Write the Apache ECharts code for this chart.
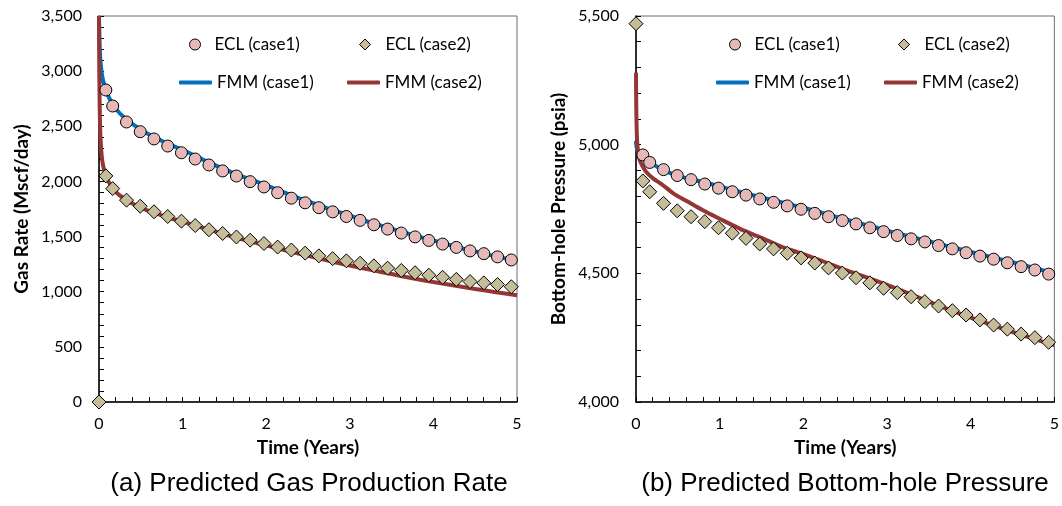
<!DOCTYPE html>
<html>
<head>
<meta charset="utf-8">
<script src="https://cdn.jsdelivr.net/npm/echarts@6/dist/echarts.min.js"></script>
<style>
html,body{margin:0;padding:0;background:#fff;}
#c{width:1062px;height:506px;}
</style>
</head>
<body>
<div id="c"></div>
<script>
// ---- data (time in years) ----
const timeECL1 = [0.082,0.164,0.329,0.493,0.658,0.822,0.986,1.151,1.315,1.479,1.644,1.808,1.973,2.137,2.301,2.466,2.630,2.795,2.959,3.123,3.288,3.452,3.616,3.781,3.945,4.110,4.274,4.438,4.603,4.767,4.932];
const timeECL2 = [0,0.082,0.164,0.329,0.493,0.658,0.822,0.986,1.151,1.315,1.479,1.644,1.808,1.973,2.137,2.301,2.466,2.630,2.795,2.959,3.123,3.288,3.452,3.616,3.781,3.945,4.110,4.274,4.438,4.603,4.767,4.932];
const rateECL1 = [2829,2684,2539,2451,2385,2321,2260,2203,2149,2095,2049,1998,1950,1898,1848,1806,1762,1724,1682,1647,1607,1568,1532,1497,1465,1432,1402,1370,1345,1316,1288];
const rateECL2 = [0,2050,1935,1830,1775,1725,1682,1640,1600,1562,1528,1496,1467,1437,1405,1378,1350,1325,1300,1280,1258,1235,1214,1193,1172,1150,1131,1112,1092,1080,1065,1045];
const presECL1 = [4960,4931,4903,4880,4864,4847,4831,4817,4804,4789,4776,4762,4749,4733,4720,4705,4692,4677,4662,4647,4634,4622,4608,4595,4580,4567,4555,4541,4526,4513,4497];
const presECL2 = [5470,4859,4817,4772,4743,4720,4701,4677,4656,4636,4614,4595,4578,4560,4540,4521,4501,4483,4463,4442,4425,4409,4390,4373,4355,4338,4319,4299,4283,4264,4250,4232];

const timeFMM = [0,0.003,0.008,0.015,0.03,0.05,0.08,0.12,0.2,0.3,0.45,0.6,0.8,1.0,1.25,1.5,1.75,2.0,2.25,2.5,2.75,3.0,3.25,3.5,3.75,4.0,4.25,4.5,4.75,5.0];
const rateFMM1 = [3500,3380,3230,3120,3000,2910,2840,2760,2660,2580,2495,2425,2350,2285,2195,2110,2035,1965,1890,1818,1752,1690,1628,1572,1515,1465,1412,1365,1320,1280];
const rateFMM2 = [3500,3050,2700,2450,2250,2140,2060,1990,1905,1845,1780,1730,1680,1635,1578,1520,1468,1420,1372,1325,1280,1238,1198,1160,1122,1088,1056,1025,996,968];
const presFMM1 = [5015,5000,4990,4980,4970,4962,4955,4945,4925,4905,4885,4870,4855,4838,4816,4795,4775,4755,4733,4710,4688,4666,4645,4625,4604,4583,4563,4543,4522,4500];
const presFMM2 = [5280,5150,5060,5005,4960,4935,4915,4895,4870,4848,4810,4782,4745,4712,4672,4638,4602,4575,4545,4513,4485,4455,4423,4390,4358,4328,4300,4272,4246,4220];

// ---- tick labels ----
const timeTicks = ['0','1','2','3','4','5'];
const rateTicks = ['0','500','1,000','1,500','2,000','2,500','3,000','3,500'];
const presTicks = ['4,000','4,500','5,000','5,500'];

const names = ['ECL (case1)','ECL (case2)','FMM (case1)','FMM (case2)'];
const captions = ['(a) Predicted Gas Production Rate','(b) Predicted Bottom-hole Pressure'];
const yNames = ['Gas Rate (Mscf/day)','Bottom-hole Pressure (psia)'];
const xName = 'Time (Years)';

const zip = (xs, ys) => xs.map((x, i) => [x, ys[i]]);

const FONT = 'Lato';
const labelStyle = {color:'#000', fontFamily:FONT, fontSize:16};
const nameStyle = {color:'#000', fontFamily:FONT, fontSize:19, fontWeight:'bold'};

function xAxis(gi){
  return {
    type:'value', gridIndex:gi, min:0, max:5, interval:1,
    name:xName, nameLocation:'middle', nameGap:36, nameTextStyle:nameStyle,
    axisLine:{show:true, onZero:false, lineStyle:{color:'#000', width:1.5}},
    axisTick:{show:true, inside:true, length:5, lineStyle:{color:'#000', width:1}},
    minorTick:{show:true, splitNumber:5, length:5, lineStyle:{color:'#000', width:1}},
    splitLine:{show:false},
    axisLabel:{...labelStyle, margin:14, formatter:(v)=>timeTicks[Math.round(v)]}
  };
}
function yAxis(gi, min, max, ticks){
  return {
    type:'value', gridIndex:gi, min:min, max:max, interval:500,
    name:yNames[gi], nameLocation:'middle', nameGap:68, nameTextStyle:nameStyle,
    axisLine:{show:true, onZero:false, lineStyle:{color:'#000', width:1.5}},
    axisTick:{show:true, inside:true, length:5, lineStyle:{color:'#000', width:1}},
    minorTick:{show:true, splitNumber:5, length:5, lineStyle:{color:'#000', width:1}},
    splitLine:{show:false},
    axisLabel:{...labelStyle, margin:17, formatter:(v)=>ticks[Math.round((v-min)/500)]}
  };
}

const BLUE = '#0070C0', RED = '#943634';
function lineS(name, gi, xs, ys, color){
  return {name, type:'line', xAxisIndex:gi, yAxisIndex:gi, data:zip(xs, ys),
    showSymbol:false, symbol:'none', smooth:0.3, lineStyle:{color, width:4}, itemStyle:{color}, z:2};
}
function scatS(name, gi, xs, ys, symbol, size, fill){
  return {name, type:'scatter', xAxisIndex:gi, yAxisIndex:gi, data:zip(xs, ys),
    symbol, symbolSize:size, itemStyle:{color:fill, borderColor:'#000', borderWidth:1, opacity:1}, z:3};
}

function leg(name, left, top, icon, w, h, padLeft, style){
  return {data:[{name, icon}], left, top, itemWidth:w, itemHeight:h, padding:0, itemGap:0,
    itemStyle:style, lineStyle:{width:0},
    textStyle:{color:'#000', fontFamily:FONT, fontSize:17, padding:[0,0,0,padLeft]}, selectedMode:false};
}
const circStyle = {color:'#E6B9B8', borderColor:'#000', borderWidth:1};
const diaStyle = {color:'#C4BD97', borderColor:'#000', borderWidth:1};
const blueStyle = {color:BLUE, borderWidth:0};
const redStyle = {color:RED, borderWidth:0};

const option = {
  animation:false,
  backgroundColor:'#fff',
  grid:[
    {left:99, right:545, top:16, bottom:104, show:true, borderColor:'#6d6d6d', borderWidth:1, backgroundColor:'transparent'},
    {left:636, right:7, top:16, bottom:104, show:true, borderColor:'#6d6d6d', borderWidth:1, backgroundColor:'transparent'}
  ],
  xAxis:[xAxis(0), xAxis(1)],
  yAxis:[yAxis(0, 0, 3500, rateTicks), yAxis(1, 4000, 5500, presTicks)],
  legend:[
    leg(names[0], 189, 36, 'circle', 11, 11, 9, circStyle),
    leg(names[1], 359, 36, 'diamond', 11, 11, 10, diaStyle),
    leg(names[2], 179, 74, 'roundRect', 33, 4, 0, blueStyle),
    leg(names[3], 347, 74, 'roundRect', 33, 4, 0, redStyle),
    leg(names[0], 729, 36, 'circle', 11, 11, 9, circStyle),
    leg(names[1], 898, 36, 'diamond', 11, 11, 10, diaStyle),
    leg(names[2], 716, 74, 'roundRect', 33, 4, 0, blueStyle),
    leg(names[3], 884, 74, 'roundRect', 33, 4, 0, redStyle)
  ],
  graphic:[
    {type:'text', x:309, y:484, style:{text:captions[0], font:'26px "Liberation Sans"', fill:'#000', align:'center', verticalAlign:'middle'}},
    {type:'text', x:845, y:484, style:{text:captions[1], font:'26px "Liberation Sans"', fill:'#000', align:'center', verticalAlign:'middle'}}
  ],
  series:[
    lineS(names[2], 0, timeFMM, rateFMM1, BLUE),
    lineS(names[3], 0, timeFMM, rateFMM2, RED),
    scatS(names[0], 0, timeECL1, rateECL1, 'circle', 12, '#E6B9B8'),
    scatS(names[1], 0, timeECL2, rateECL2, 'diamond', 14, '#C4BD97'),
    lineS(names[2], 1, timeFMM, presFMM1, BLUE),
    lineS(names[3], 1, timeFMM, presFMM2, RED),
    scatS(names[0], 1, timeECL1, presECL1, 'circle', 12, '#E6B9B8'),
    scatS(names[1], 1, timeECL2, presECL2, 'diamond', 14, '#C4BD97')
  ]
};
const chart = echarts.init(document.getElementById('c'), null, {renderer:'canvas'});
chart.setOption(option);
</script>
</body>
</html>
